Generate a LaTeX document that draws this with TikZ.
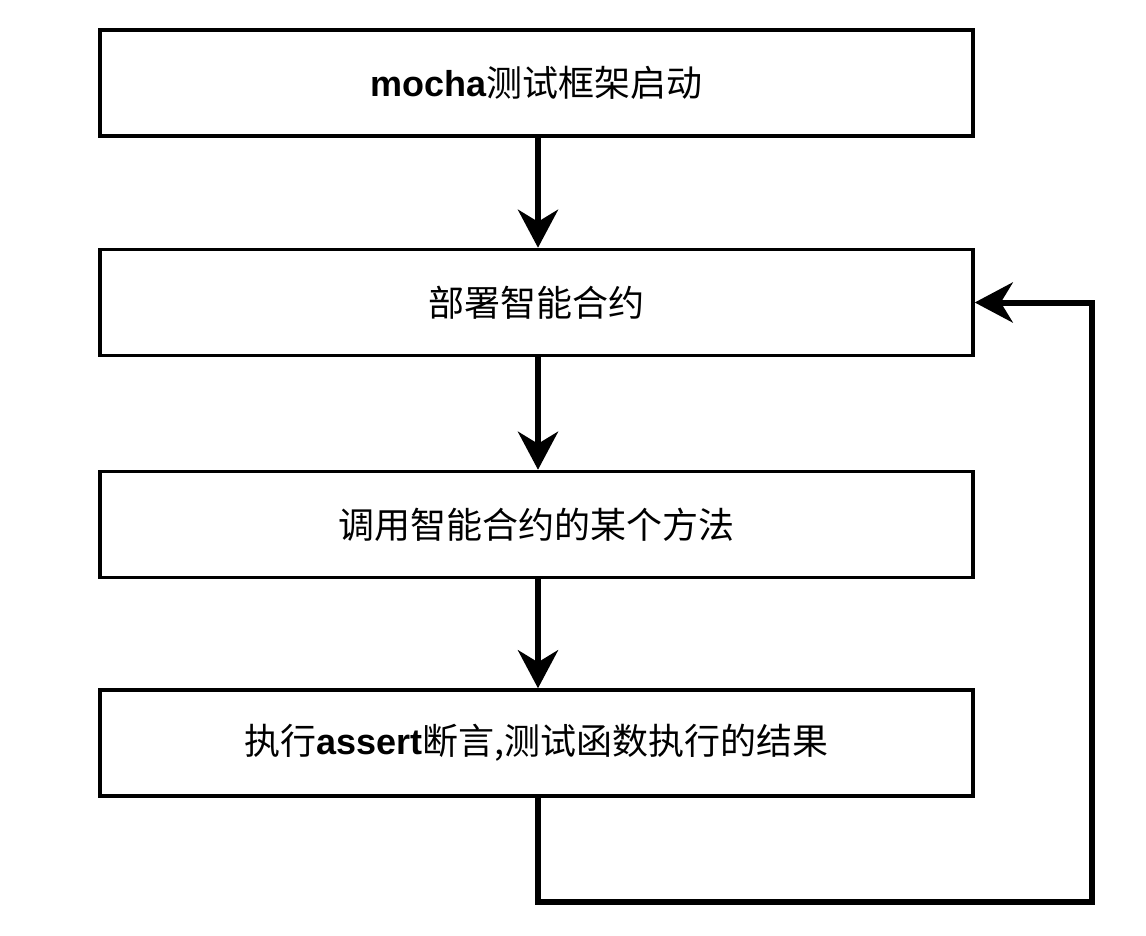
\documentclass[tikz,border=0pt]{standalone}
\usepackage{fontspec}
\setmainfont{Liberation Sans}
\newfontfamily\cjk{Noto Sans CJK SC}
\usetikzlibrary{arrows.meta}
\tikzset{
  stepbox/.style={draw=black, line width=3.5pt, minimum width=873pt, minimum height=106pt, inner sep=0pt, font=\fontsize{36pt}{40pt}\selectfont\cjk, fill=white},
  flow/.style={line width=6pt, -{Stealth[length=38pt, width=40pt, inset=12pt]}},
}
\newcommand{\lat}[1]{{\fontspec{Liberation Sans}\bfseries #1}}
\begin{document}
\begin{tikzpicture}[x=1pt, y=-1pt]
\useasboundingbox (0,0) rectangle (1146,936);
\node[stepbox] (b1) at (536.5,83) {\lat{mocha}测试框架启动};
\node[stepbox] (b2) at (536.5,302.5) {部署智能合约};
\node[stepbox] (b3) at (536.5,524.5) {调用智能合约的某个方法};
\node[stepbox] (b4) at (536.5,743) {执行\lat{assert}断言,测试函数执行的结果};
\coordinate (c1) at (538,902);
\coordinate (c2) at (1092,902);
\coordinate (c3) at (1092,302.5);
\draw[flow] (b1.south -| 538,0) -- (b2.north -| 538,0);
\draw[flow] (b2.south -| 538,0) -- (b3.north -| 538,0);
\draw[flow] (b3.south -| 538,0) -- (b4.north -| 538,0);
\draw[flow, line join=miter] (b4.south -| 538,0) -- (c1) -- (c2) -- (c3) -- (b2.east);
\end{tikzpicture}
\end{document}
